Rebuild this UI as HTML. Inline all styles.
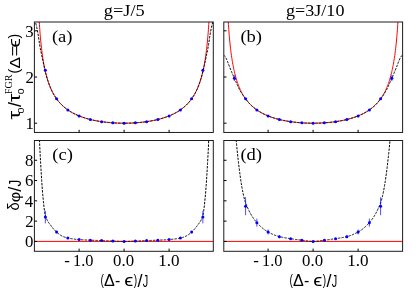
<!DOCTYPE html>
<html><head><meta charset="utf-8"><title>chart</title><style>html,body{margin:0;padding:0;background:#fff;overflow:hidden}svg{display:block;will-change:transform;}</style></head><body>
<svg width="415" height="289" viewBox="0 0 415 289">
<rect width="415" height="289" fill="#fff"/>
<defs>
<clipPath id="c0"><rect x="34.40" y="22.00" width="178.90" height="110.45"/></clipPath>
<clipPath id="c1"><rect x="223.80" y="22.00" width="178.80" height="110.45"/></clipPath>
<clipPath id="c2"><rect x="34.40" y="140.50" width="178.90" height="110.80"/></clipPath>
<clipPath id="c3"><rect x="223.80" y="140.50" width="178.80" height="110.80"/></clipPath>
</defs>
<g clip-path="url(#c0)">
<polyline fill="none" stroke="#ff0000" stroke-width="1" points="34.79,-2140.75 34.81,-1593.11 34.82,-1255.40 34.84,-1026.34 34.86,-860.76 34.89,-735.49 34.92,-637.41 34.96,-558.54 34.99,-493.74 35.03,-439.56 35.08,-393.58 35.12,-354.07 35.17,-319.77 35.23,-289.70 35.29,-263.13 35.35,-239.48 35.41,-218.29 35.48,-199.21 35.55,-181.93 35.63,-166.21 35.70,-151.85 35.79,-138.68 35.87,-126.56 35.96,-115.37 36.05,-105.00 36.15,-95.37 36.24,-86.40 36.35,-78.03 36.45,-70.20 36.56,-62.86 36.67,-55.96 36.79,-49.47 36.91,-43.35 37.03,-37.57 37.15,-32.11 37.28,-26.93 37.42,-22.02 37.55,-17.36 37.69,-12.92 37.83,-8.70 37.98,-4.67 38.13,-0.83 38.28,2.84 38.44,6.34 38.59,9.70 38.76,12.92 38.92,16.00 39.09,18.96 39.26,21.80 39.44,24.53 39.62,27.15 39.80,29.68 39.98,32.11 40.17,34.45 40.36,36.72 40.56,38.90 40.76,41.00 40.96,43.04 41.16,45.00 41.37,46.90 41.58,48.74 41.80,50.52 42.01,52.25 42.23,53.92 42.46,55.54 42.69,57.11 42.92,58.63 43.15,60.11 43.38,61.54 43.62,62.94 43.87,64.29 44.11,65.61 44.36,66.89 44.61,68.13 44.87,69.34 45.13,70.52 45.39,71.67 45.65,72.79 45.92,73.88 46.19,74.94 46.46,75.97 46.74,76.98 47.02,77.96 47.30,78.92 47.58,79.86 47.87,80.77 48.16,81.66 48.45,82.53 48.75,83.38 49.05,84.21 49.35,85.02 49.66,85.81 49.97,86.59 50.28,87.34 50.59,88.08 50.91,88.81 51.23,89.52 51.55,90.21 51.88,90.89 52.21,91.55 52.54,92.20 52.87,92.84 53.21,93.46 53.55,94.07 53.89,94.66 54.23,95.25 54.58,95.82 54.93,96.38 55.28,96.93 55.64,97.47 55.99,98.00 56.36,98.52 56.72,99.03 57.08,99.52 57.45,100.01 57.82,100.49 58.20,100.96 58.57,101.42 58.95,101.87 59.33,102.31 59.72,102.75 60.10,103.18 60.49,103.59 60.88,104.01 61.28,104.41 61.67,104.81 62.07,105.19 62.47,105.58 62.87,105.95 63.28,106.32 63.69,106.68 64.10,107.03 64.51,107.38 64.92,107.72 65.34,108.06 65.76,108.39 66.18,108.71 66.61,109.03 67.03,109.35 67.46,109.65 67.89,109.96 68.32,110.25 68.76,110.54 69.19,110.83 69.63,111.11 70.08,111.39 70.52,111.66 70.96,111.92 71.41,112.19 71.86,112.44 72.31,112.70 72.76,112.95 73.22,113.19 73.68,113.43 74.14,113.67 74.60,113.90 75.06,114.13 75.53,114.35 75.99,114.57 76.46,114.78 76.93,115.00 77.40,115.21 77.88,115.41 78.35,115.61 78.83,115.81 79.31,116.00 79.79,116.19 80.28,116.38 80.76,116.56 81.25,116.75 81.74,116.92 82.22,117.10 82.72,117.27 83.21,117.44 83.70,117.60 84.20,117.76 84.70,117.92 85.20,118.08 85.70,118.23 86.20,118.38 86.70,118.53 87.21,118.67 87.71,118.81 88.22,118.95 88.73,119.09 89.24,119.22 89.75,119.35 90.27,119.48 90.78,119.61 91.30,119.73 91.81,119.85 92.33,119.97 92.85,120.08 93.37,120.20 93.89,120.31 94.42,120.42 94.94,120.52 95.47,120.63 95.99,120.73 96.52,120.83 97.05,120.92 97.58,121.02 98.11,121.11 98.64,121.20 99.17,121.29 99.71,121.37 100.24,121.46 100.78,121.54 101.31,121.62 101.85,121.70 102.39,121.77 102.93,121.84 103.47,121.92 104.01,121.98 104.55,122.05 105.09,122.12 105.63,122.18 106.18,122.24 106.72,122.30 107.27,122.36 107.81,122.41 108.36,122.47 108.91,122.52 109.45,122.57 110.00,122.61 110.55,122.66 111.10,122.70 111.65,122.74 112.20,122.78 112.75,122.82 113.30,122.86 113.85,122.89 114.40,122.93 114.96,122.96 115.51,122.98 116.06,123.01 116.61,123.04 117.17,123.06 117.72,123.08 118.27,123.10 118.83,123.12 119.38,123.14 119.94,123.15 120.49,123.16 121.05,123.17 121.60,123.18 122.16,123.19 122.71,123.19 123.27,123.20 123.82,123.20 124.38,123.20 124.93,123.20 125.49,123.19 126.04,123.19 126.60,123.18 127.15,123.17 127.71,123.16 128.26,123.15 128.82,123.14 129.37,123.12 129.93,123.10 130.48,123.08 131.03,123.06 131.59,123.04 132.14,123.01 132.69,122.98 133.24,122.96 133.80,122.93 134.35,122.89 134.90,122.86 135.45,122.82 136.00,122.78 136.55,122.74 137.10,122.70 137.65,122.66 138.20,122.61 138.75,122.57 139.29,122.52 139.84,122.47 140.39,122.41 140.93,122.36 141.48,122.30 142.02,122.24 142.57,122.18 143.11,122.12 143.65,122.05 144.19,121.98 144.73,121.92 145.27,121.84 145.81,121.77 146.35,121.70 146.89,121.62 147.42,121.54 147.96,121.46 148.49,121.37 149.03,121.29 149.56,121.20 150.09,121.11 150.62,121.02 151.15,120.92 151.68,120.83 152.21,120.73 152.73,120.63 153.26,120.52 153.78,120.42 154.31,120.31 154.83,120.20 155.35,120.08 155.87,119.97 156.39,119.85 156.90,119.73 157.42,119.61 157.93,119.48 158.45,119.35 158.96,119.22 159.47,119.09 159.98,118.95 160.49,118.81 160.99,118.67 161.50,118.53 162.00,118.38 162.50,118.23 163.00,118.08 163.50,117.92 164.00,117.76 164.50,117.60 164.99,117.44 165.48,117.27 165.98,117.10 166.46,116.92 166.95,116.75 167.44,116.56 167.92,116.38 168.41,116.19 168.89,116.00 169.37,115.81 169.85,115.61 170.32,115.41 170.80,115.21 171.27,115.00 171.74,114.78 172.21,114.57 172.67,114.35 173.14,114.13 173.60,113.90 174.06,113.67 174.52,113.43 174.98,113.19 175.44,112.95 175.89,112.70 176.34,112.44 176.79,112.19 177.24,111.92 177.68,111.66 178.12,111.39 178.57,111.11 179.01,110.83 179.44,110.54 179.88,110.25 180.31,109.96 180.74,109.65 181.17,109.35 181.59,109.03 182.02,108.71 182.44,108.39 182.86,108.06 183.28,107.72 183.69,107.38 184.10,107.03 184.51,106.68 184.92,106.32 185.33,105.95 185.73,105.58 186.13,105.19 186.53,104.81 186.92,104.41 187.32,104.01 187.71,103.59 188.10,103.18 188.48,102.75 188.87,102.31 189.25,101.87 189.63,101.42 190.00,100.96 190.38,100.49 190.75,100.01 191.12,99.52 191.48,99.03 191.84,98.52 192.21,98.00 192.56,97.47 192.92,96.93 193.27,96.38 193.62,95.82 193.97,95.25 194.31,94.66 194.65,94.07 194.99,93.46 195.33,92.84 195.66,92.20 195.99,91.55 196.32,90.89 196.65,90.21 196.97,89.52 197.29,88.81 197.61,88.08 197.92,87.34 198.23,86.59 198.54,85.81 198.85,85.02 199.15,84.21 199.45,83.38 199.75,82.53 200.04,81.66 200.33,80.77 200.62,79.86 200.90,78.92 201.18,77.96 201.46,76.98 201.74,75.97 202.01,74.94 202.28,73.88 202.55,72.79 202.81,71.67 203.07,70.52 203.33,69.34 203.59,68.13 203.84,66.89 204.09,65.61 204.33,64.29 204.58,62.94 204.82,61.54 205.05,60.11 205.28,58.63 205.51,57.11 205.74,55.54 205.97,53.92 206.19,52.25 206.40,50.52 206.62,48.74 206.83,46.90 207.04,45.00 207.24,43.04 207.44,41.00 207.64,38.90 207.84,36.72 208.03,34.45 208.22,32.11 208.40,29.68 208.58,27.15 208.76,24.53 208.94,21.80 209.11,18.96 209.28,16.00 209.44,12.92 209.61,9.70 209.76,6.34 209.92,2.84 210.07,-0.83 210.22,-4.67 210.37,-8.70 210.51,-12.92 210.65,-17.36 210.78,-22.02 210.92,-26.93 211.05,-32.11 211.17,-37.57 211.29,-43.35 211.41,-49.47 211.53,-55.96 211.64,-62.86 211.75,-70.20 211.85,-78.03 211.96,-86.40 212.05,-95.37 212.15,-105.00 212.24,-115.37 212.33,-126.56 212.41,-138.68 212.50,-151.85 212.57,-166.21 212.65,-181.93 212.72,-199.21 212.79,-218.29 212.85,-239.48 212.91,-263.13 212.97,-289.70 213.03,-319.77 213.08,-354.07 213.12,-393.58 213.17,-439.56 213.21,-493.74 213.24,-558.54 213.28,-637.41 213.31,-735.49 213.34,-860.76 213.36,-1026.34 213.38,-1255.40 213.39,-1593.11 213.41,-2140.75"/>
<polyline fill="none" stroke="#000" stroke-width="1.0" stroke-dasharray="2.4 1.2" points="34.60,19.72 34.96,20.63 35.32,21.72 35.68,22.94 36.03,24.31 36.39,25.81 36.75,27.43 37.11,29.16 37.47,30.97 37.83,32.85 38.19,34.93 38.55,37.24 38.90,39.66 39.26,42.10 39.62,44.46 39.98,46.63 40.34,48.57 40.70,50.38 41.06,52.15 41.42,53.88 41.77,55.59 42.13,57.27 42.49,58.94 42.85,60.60 43.21,62.26 43.57,63.96 43.93,65.67 44.29,67.37 44.64,69.01 45.00,70.55 45.36,71.96 45.72,73.28 46.08,74.58 46.44,75.85 46.80,77.08 47.16,78.29 47.51,79.46 47.87,80.60 48.23,81.70 48.59,82.78 48.95,83.81 49.31,84.81 49.67,85.77 50.02,86.70 50.38,87.58 50.74,88.43 51.10,89.23 51.46,90.01 51.82,90.76 52.18,91.49 52.54,92.20 52.89,92.88 53.25,93.55 53.61,94.19 53.97,94.81 54.33,95.41 54.69,96.00 55.05,96.57 55.41,97.12 55.76,97.66 56.12,98.19 56.48,98.70 56.84,99.19 57.20,99.68 57.56,100.15 57.92,100.61 58.28,101.06 58.63,101.50 58.99,101.92 59.35,102.34 59.71,102.75 60.07,103.14 60.43,103.53 60.79,103.91 61.15,104.28 61.50,104.64 61.86,104.99 62.22,105.34 62.58,105.68 62.94,106.01 63.30,106.33 63.66,106.65 64.01,106.96 64.37,107.27 64.73,107.57 65.09,107.86 65.45,108.15 65.81,108.43 66.17,108.70 66.53,108.97 66.88,109.24 67.24,109.50 67.60,109.75 67.96,110.00 68.32,110.25 68.68,110.49 69.04,110.73 69.40,110.96 69.75,111.19 70.11,111.41 70.47,111.63 70.83,111.85 71.19,112.06 71.55,112.27 71.91,112.47 72.27,112.67 72.62,112.87 72.98,113.06 73.34,113.25 73.70,113.44 74.06,113.63 74.42,113.81 74.78,113.99 75.14,114.16 75.49,114.33 75.85,114.50 76.21,114.67 76.57,114.83 76.93,115.00 77.29,115.15 77.65,115.31 78.00,115.46 78.36,115.62 78.72,115.76 79.08,115.91 79.44,116.05 79.80,116.19 80.16,116.33 80.52,116.47 80.87,116.61 81.23,116.74 81.59,116.87 81.95,117.00 82.31,117.13 82.67,117.25 83.03,117.37 83.39,117.50 83.74,117.61 84.10,117.73 84.46,117.85 84.82,117.96 85.18,118.07 85.54,118.18 85.90,118.29 86.26,118.40 86.61,118.50 86.97,118.60 87.33,118.71 87.69,118.81 88.05,118.91 88.41,119.00 88.77,119.10 89.13,119.19 89.48,119.28 89.84,119.38 90.20,119.46 90.56,119.55 90.92,119.64 91.28,119.72 91.64,119.81 91.99,119.89 92.35,119.97 92.71,120.05 93.07,120.13 93.43,120.21 93.79,120.29 94.15,120.36 94.51,120.44 94.86,120.51 95.22,120.58 95.58,120.65 95.94,120.72 96.30,120.79 96.66,120.85 97.02,120.92 97.38,120.98 97.73,121.04 98.09,121.11 98.45,121.17 98.81,121.23 99.17,121.29 99.53,121.35 99.89,121.40 100.25,121.46 100.60,121.51 100.96,121.57 101.32,121.62 101.68,121.67 102.04,121.72 102.40,121.77 102.76,121.82 103.12,121.87 103.47,121.92 103.83,121.96 104.19,122.01 104.55,122.05 104.91,122.10 105.27,122.14 105.63,122.18 105.98,122.22 106.34,122.26 106.70,122.30 107.06,122.34 107.42,122.37 107.78,122.41 108.14,122.44 108.50,122.48 108.85,122.51 109.21,122.54 109.57,122.58 109.93,122.61 110.29,122.64 110.65,122.67 111.01,122.70 111.37,122.73 111.72,122.75 112.08,122.78 112.44,122.80 112.80,122.83 113.16,122.85 113.52,122.87 113.88,122.89 114.24,122.91 114.59,122.94 114.95,122.96 115.31,122.98 115.67,123.00 116.03,123.01 116.39,123.03 116.75,123.05 117.11,123.06 117.46,123.08 117.82,123.09 118.18,123.10 118.54,123.11 118.90,123.12 119.26,123.13 119.62,123.14 119.97,123.14 120.33,123.15 120.69,123.16 121.05,123.17 121.41,123.17 121.77,123.18 122.13,123.19 122.49,123.19 122.84,123.19 123.20,123.20 123.56,123.20 123.92,123.20 124.28,123.20 124.64,123.20 125.00,123.20 125.36,123.19 125.71,123.19 126.07,123.19 126.43,123.18 126.79,123.17 127.15,123.17 127.51,123.16 127.87,123.15 128.23,123.14 128.58,123.14 128.94,123.13 129.30,123.12 129.66,123.11 130.02,123.10 130.38,123.09 130.74,123.08 131.09,123.06 131.45,123.05 131.81,123.03 132.17,123.01 132.53,123.00 132.89,122.98 133.25,122.96 133.61,122.94 133.96,122.91 134.32,122.89 134.68,122.87 135.04,122.85 135.40,122.83 135.76,122.80 136.12,122.78 136.48,122.75 136.83,122.73 137.19,122.70 137.55,122.67 137.91,122.64 138.27,122.61 138.63,122.58 138.99,122.54 139.35,122.51 139.70,122.48 140.06,122.44 140.42,122.41 140.78,122.37 141.14,122.34 141.50,122.30 141.86,122.26 142.22,122.22 142.57,122.18 142.93,122.14 143.29,122.10 143.65,122.05 144.01,122.01 144.37,121.96 144.73,121.92 145.08,121.87 145.44,121.82 145.80,121.77 146.16,121.72 146.52,121.67 146.88,121.62 147.24,121.57 147.60,121.51 147.95,121.46 148.31,121.40 148.67,121.35 149.03,121.29 149.39,121.23 149.75,121.17 150.11,121.11 150.47,121.04 150.82,120.98 151.18,120.92 151.54,120.85 151.90,120.79 152.26,120.72 152.62,120.65 152.98,120.58 153.34,120.51 153.69,120.44 154.05,120.36 154.41,120.29 154.77,120.21 155.13,120.13 155.49,120.05 155.85,119.97 156.21,119.89 156.56,119.81 156.92,119.72 157.28,119.64 157.64,119.55 158.00,119.46 158.36,119.38 158.72,119.28 159.07,119.19 159.43,119.10 159.79,119.00 160.15,118.91 160.51,118.81 160.87,118.71 161.23,118.60 161.59,118.50 161.94,118.40 162.30,118.29 162.66,118.18 163.02,118.07 163.38,117.96 163.74,117.85 164.10,117.73 164.46,117.61 164.81,117.50 165.17,117.37 165.53,117.25 165.89,117.13 166.25,117.00 166.61,116.87 166.97,116.74 167.33,116.61 167.68,116.47 168.04,116.33 168.40,116.19 168.76,116.05 169.12,115.91 169.48,115.76 169.84,115.62 170.20,115.46 170.55,115.31 170.91,115.15 171.27,115.00 171.63,114.83 171.99,114.67 172.35,114.50 172.71,114.33 173.06,114.16 173.42,113.99 173.78,113.81 174.14,113.63 174.50,113.44 174.86,113.25 175.22,113.06 175.58,112.87 175.93,112.67 176.29,112.47 176.65,112.27 177.01,112.06 177.37,111.85 177.73,111.63 178.09,111.41 178.45,111.19 178.80,110.96 179.16,110.73 179.52,110.49 179.88,110.25 180.24,110.00 180.60,109.75 180.96,109.50 181.32,109.24 181.67,108.97 182.03,108.70 182.39,108.43 182.75,108.15 183.11,107.86 183.47,107.57 183.83,107.27 184.19,106.96 184.54,106.65 184.90,106.33 185.26,106.01 185.62,105.68 185.98,105.34 186.34,104.99 186.70,104.64 187.05,104.28 187.41,103.91 187.77,103.53 188.13,103.14 188.49,102.75 188.85,102.34 189.21,101.92 189.57,101.50 189.92,101.06 190.28,100.61 190.64,100.15 191.00,99.68 191.36,99.19 191.72,98.70 192.08,98.19 192.44,97.66 192.79,97.12 193.15,96.57 193.51,96.00 193.87,95.41 194.23,94.81 194.59,94.19 194.95,93.55 195.31,92.88 195.66,92.20 196.02,91.49 196.38,90.76 196.74,90.01 197.10,89.23 197.46,88.43 197.82,87.58 198.18,86.70 198.53,85.77 198.89,84.81 199.25,83.81 199.61,82.78 199.97,81.70 200.33,80.60 200.69,79.46 201.04,78.29 201.40,77.08 201.76,75.85 202.12,74.58 202.48,73.28 202.84,71.96 203.20,70.55 203.56,69.01 203.91,67.37 204.27,65.67 204.63,63.96 204.99,62.26 205.35,60.60 205.71,58.94 206.07,57.27 206.43,55.59 206.78,53.88 207.14,52.15 207.50,50.38 207.86,48.57 208.22,46.63 208.58,44.46 208.94,42.10 209.30,39.66 209.65,37.24 210.01,34.93 210.37,32.85 210.73,30.97 211.09,29.16 211.45,27.43 211.81,25.81 212.17,24.31 212.52,22.94 212.88,21.72 213.24,20.63 213.60,19.72"/>
<circle cx="45.35" cy="70.13" r="1.5" fill="#0000ff"/>
<circle cx="56.60" cy="98.86" r="1.5" fill="#0000ff"/>
<circle cx="67.85" cy="109.93" r="1.5" fill="#0000ff"/>
<circle cx="79.10" cy="115.92" r="1.5" fill="#0000ff"/>
<circle cx="90.35" cy="119.50" r="1.5" fill="#0000ff"/>
<circle cx="101.60" cy="121.66" r="1.5" fill="#0000ff"/>
<circle cx="112.85" cy="122.83" r="1.5" fill="#0000ff"/>
<circle cx="124.10" cy="123.20" r="1.5" fill="#0000ff"/>
<circle cx="135.35" cy="122.83" r="1.5" fill="#0000ff"/>
<circle cx="146.60" cy="121.66" r="1.5" fill="#0000ff"/>
<circle cx="157.85" cy="119.50" r="1.5" fill="#0000ff"/>
<circle cx="169.10" cy="115.92" r="1.5" fill="#0000ff"/>
<circle cx="180.35" cy="109.93" r="1.5" fill="#0000ff"/>
<circle cx="191.60" cy="98.86" r="1.5" fill="#0000ff"/>
<circle cx="202.85" cy="70.13" r="1.5" fill="#0000ff"/>
</g>
<g clip-path="url(#c1)">
<polyline fill="none" stroke="#ff0000" stroke-width="1" points="223.79,-2140.75 223.81,-1593.11 223.82,-1255.40 223.84,-1026.34 223.86,-860.76 223.89,-735.49 223.92,-637.41 223.96,-558.54 223.99,-493.74 224.03,-439.56 224.08,-393.58 224.12,-354.07 224.17,-319.77 224.23,-289.70 224.29,-263.13 224.35,-239.48 224.41,-218.29 224.48,-199.21 224.55,-181.93 224.63,-166.21 224.70,-151.85 224.79,-138.68 224.87,-126.56 224.96,-115.37 225.05,-105.00 225.15,-95.37 225.24,-86.40 225.35,-78.03 225.45,-70.20 225.56,-62.86 225.67,-55.96 225.79,-49.47 225.91,-43.35 226.03,-37.57 226.15,-32.11 226.28,-26.93 226.42,-22.02 226.55,-17.36 226.69,-12.92 226.83,-8.70 226.98,-4.67 227.13,-0.83 227.28,2.84 227.44,6.34 227.59,9.70 227.76,12.92 227.92,16.00 228.09,18.96 228.26,21.80 228.44,24.53 228.62,27.15 228.80,29.68 228.98,32.11 229.17,34.45 229.36,36.72 229.56,38.90 229.76,41.00 229.96,43.04 230.16,45.00 230.37,46.90 230.58,48.74 230.80,50.52 231.01,52.25 231.23,53.92 231.46,55.54 231.69,57.11 231.92,58.63 232.15,60.11 232.38,61.54 232.62,62.94 232.87,64.29 233.11,65.61 233.36,66.89 233.61,68.13 233.87,69.34 234.13,70.52 234.39,71.67 234.65,72.79 234.92,73.88 235.19,74.94 235.46,75.97 235.74,76.98 236.02,77.96 236.30,78.92 236.58,79.86 236.87,80.77 237.16,81.66 237.45,82.53 237.75,83.38 238.05,84.21 238.35,85.02 238.66,85.81 238.97,86.59 239.28,87.34 239.59,88.08 239.91,88.81 240.23,89.52 240.55,90.21 240.88,90.89 241.21,91.55 241.54,92.20 241.87,92.84 242.21,93.46 242.55,94.07 242.89,94.66 243.23,95.25 243.58,95.82 243.93,96.38 244.28,96.93 244.64,97.47 244.99,98.00 245.36,98.52 245.72,99.03 246.08,99.52 246.45,100.01 246.82,100.49 247.20,100.96 247.57,101.42 247.95,101.87 248.33,102.31 248.72,102.75 249.10,103.18 249.49,103.59 249.88,104.01 250.28,104.41 250.67,104.81 251.07,105.19 251.47,105.58 251.87,105.95 252.28,106.32 252.69,106.68 253.10,107.03 253.51,107.38 253.92,107.72 254.34,108.06 254.76,108.39 255.18,108.71 255.61,109.03 256.03,109.35 256.46,109.65 256.89,109.96 257.32,110.25 257.76,110.54 258.19,110.83 258.63,111.11 259.08,111.39 259.52,111.66 259.96,111.92 260.41,112.19 260.86,112.44 261.31,112.70 261.76,112.95 262.22,113.19 262.68,113.43 263.14,113.67 263.60,113.90 264.06,114.13 264.53,114.35 264.99,114.57 265.46,114.78 265.93,115.00 266.40,115.21 266.88,115.41 267.35,115.61 267.83,115.81 268.31,116.00 268.79,116.19 269.28,116.38 269.76,116.56 270.25,116.75 270.74,116.92 271.22,117.10 271.72,117.27 272.21,117.44 272.70,117.60 273.20,117.76 273.70,117.92 274.20,118.08 274.70,118.23 275.20,118.38 275.70,118.53 276.21,118.67 276.71,118.81 277.22,118.95 277.73,119.09 278.24,119.22 278.75,119.35 279.27,119.48 279.78,119.61 280.30,119.73 280.81,119.85 281.33,119.97 281.85,120.08 282.37,120.20 282.89,120.31 283.42,120.42 283.94,120.52 284.47,120.63 284.99,120.73 285.52,120.83 286.05,120.92 286.58,121.02 287.11,121.11 287.64,121.20 288.17,121.29 288.71,121.37 289.24,121.46 289.78,121.54 290.31,121.62 290.85,121.70 291.39,121.77 291.93,121.84 292.47,121.92 293.01,121.98 293.55,122.05 294.09,122.12 294.63,122.18 295.18,122.24 295.72,122.30 296.27,122.36 296.81,122.41 297.36,122.47 297.91,122.52 298.45,122.57 299.00,122.61 299.55,122.66 300.10,122.70 300.65,122.74 301.20,122.78 301.75,122.82 302.30,122.86 302.85,122.89 303.40,122.93 303.96,122.96 304.51,122.98 305.06,123.01 305.61,123.04 306.17,123.06 306.72,123.08 307.27,123.10 307.83,123.12 308.38,123.14 308.94,123.15 309.49,123.16 310.05,123.17 310.60,123.18 311.16,123.19 311.71,123.19 312.27,123.20 312.82,123.20 313.38,123.20 313.93,123.20 314.49,123.19 315.04,123.19 315.60,123.18 316.15,123.17 316.71,123.16 317.26,123.15 317.82,123.14 318.37,123.12 318.93,123.10 319.48,123.08 320.03,123.06 320.59,123.04 321.14,123.01 321.69,122.98 322.24,122.96 322.80,122.93 323.35,122.89 323.90,122.86 324.45,122.82 325.00,122.78 325.55,122.74 326.10,122.70 326.65,122.66 327.20,122.61 327.75,122.57 328.29,122.52 328.84,122.47 329.39,122.41 329.93,122.36 330.48,122.30 331.02,122.24 331.57,122.18 332.11,122.12 332.65,122.05 333.19,121.98 333.73,121.92 334.27,121.84 334.81,121.77 335.35,121.70 335.89,121.62 336.42,121.54 336.96,121.46 337.49,121.37 338.03,121.29 338.56,121.20 339.09,121.11 339.62,121.02 340.15,120.92 340.68,120.83 341.21,120.73 341.73,120.63 342.26,120.52 342.78,120.42 343.31,120.31 343.83,120.20 344.35,120.08 344.87,119.97 345.39,119.85 345.90,119.73 346.42,119.61 346.93,119.48 347.45,119.35 347.96,119.22 348.47,119.09 348.98,118.95 349.49,118.81 349.99,118.67 350.50,118.53 351.00,118.38 351.50,118.23 352.00,118.08 352.50,117.92 353.00,117.76 353.50,117.60 353.99,117.44 354.48,117.27 354.98,117.10 355.46,116.92 355.95,116.75 356.44,116.56 356.92,116.38 357.41,116.19 357.89,116.00 358.37,115.81 358.85,115.61 359.32,115.41 359.80,115.21 360.27,115.00 360.74,114.78 361.21,114.57 361.67,114.35 362.14,114.13 362.60,113.90 363.06,113.67 363.52,113.43 363.98,113.19 364.44,112.95 364.89,112.70 365.34,112.44 365.79,112.19 366.24,111.92 366.68,111.66 367.12,111.39 367.57,111.11 368.01,110.83 368.44,110.54 368.88,110.25 369.31,109.96 369.74,109.65 370.17,109.35 370.59,109.03 371.02,108.71 371.44,108.39 371.86,108.06 372.28,107.72 372.69,107.38 373.10,107.03 373.51,106.68 373.92,106.32 374.33,105.95 374.73,105.58 375.13,105.19 375.53,104.81 375.92,104.41 376.32,104.01 376.71,103.59 377.10,103.18 377.48,102.75 377.87,102.31 378.25,101.87 378.63,101.42 379.00,100.96 379.38,100.49 379.75,100.01 380.12,99.52 380.48,99.03 380.84,98.52 381.21,98.00 381.56,97.47 381.92,96.93 382.27,96.38 382.62,95.82 382.97,95.25 383.31,94.66 383.65,94.07 383.99,93.46 384.33,92.84 384.66,92.20 384.99,91.55 385.32,90.89 385.65,90.21 385.97,89.52 386.29,88.81 386.61,88.08 386.92,87.34 387.23,86.59 387.54,85.81 387.85,85.02 388.15,84.21 388.45,83.38 388.75,82.53 389.04,81.66 389.33,80.77 389.62,79.86 389.90,78.92 390.18,77.96 390.46,76.98 390.74,75.97 391.01,74.94 391.28,73.88 391.55,72.79 391.81,71.67 392.07,70.52 392.33,69.34 392.59,68.13 392.84,66.89 393.09,65.61 393.33,64.29 393.58,62.94 393.82,61.54 394.05,60.11 394.28,58.63 394.51,57.11 394.74,55.54 394.97,53.92 395.19,52.25 395.40,50.52 395.62,48.74 395.83,46.90 396.04,45.00 396.24,43.04 396.44,41.00 396.64,38.90 396.84,36.72 397.03,34.45 397.22,32.11 397.40,29.68 397.58,27.15 397.76,24.53 397.94,21.80 398.11,18.96 398.28,16.00 398.44,12.92 398.61,9.70 398.76,6.34 398.92,2.84 399.07,-0.83 399.22,-4.67 399.37,-8.70 399.51,-12.92 399.65,-17.36 399.78,-22.02 399.92,-26.93 400.05,-32.11 400.17,-37.57 400.29,-43.35 400.41,-49.47 400.53,-55.96 400.64,-62.86 400.75,-70.20 400.85,-78.03 400.96,-86.40 401.05,-95.37 401.15,-105.00 401.24,-115.37 401.33,-126.56 401.41,-138.68 401.50,-151.85 401.57,-166.21 401.65,-181.93 401.72,-199.21 401.79,-218.29 401.85,-239.48 401.91,-263.13 401.97,-289.70 402.03,-319.77 402.08,-354.07 402.12,-393.58 402.17,-439.56 402.21,-493.74 402.24,-558.54 402.28,-637.41 402.31,-735.49 402.34,-860.76 402.36,-1026.34 402.38,-1255.40 402.39,-1593.11 402.41,-2140.75"/>
<polyline fill="none" stroke="#000" stroke-width="1.0" stroke-dasharray="2.4 1.2" points="223.60,54.92 223.96,55.21 224.32,55.60 224.68,56.02 225.03,56.51 225.39,57.05 225.75,57.64 226.11,58.28 226.47,59.01 226.83,59.84 227.19,60.73 227.55,61.62 227.90,62.51 228.26,63.42 228.62,64.35 228.98,65.29 229.34,66.23 229.70,67.17 230.06,68.08 230.42,68.97 230.77,69.84 231.13,70.70 231.49,71.56 231.85,72.41 232.21,73.25 232.57,74.08 232.93,74.91 233.29,75.74 233.64,76.55 234.00,77.37 234.36,78.18 234.72,79.00 235.08,79.82 235.44,80.65 235.80,81.48 236.16,82.31 236.51,83.14 236.87,83.96 237.23,84.77 237.59,85.57 237.95,86.36 238.31,87.13 238.67,87.87 239.02,88.60 239.38,89.30 239.74,89.98 240.10,90.62 240.46,91.25 240.82,91.86 241.18,92.45 241.54,93.03 241.89,93.60 242.25,94.16 242.61,94.70 242.97,95.23 243.33,95.76 243.69,96.27 244.05,96.77 244.41,97.27 244.76,97.75 245.12,98.23 245.48,98.71 245.84,99.17 246.20,99.64 246.56,100.09 246.92,100.54 247.28,100.99 247.63,101.42 247.99,101.85 248.35,102.28 248.71,102.69 249.07,103.10 249.43,103.50 249.79,103.88 250.15,104.26 250.50,104.63 250.86,104.99 251.22,105.34 251.58,105.68 251.94,106.01 252.30,106.33 252.66,106.65 253.01,106.96 253.37,107.27 253.73,107.57 254.09,107.86 254.45,108.15 254.81,108.43 255.17,108.70 255.53,108.97 255.88,109.24 256.24,109.50 256.60,109.75 256.96,110.00 257.32,110.25 257.68,110.49 258.04,110.73 258.40,110.96 258.75,111.19 259.11,111.41 259.47,111.63 259.83,111.85 260.19,112.06 260.55,112.27 260.91,112.47 261.27,112.67 261.62,112.87 261.98,113.06 262.34,113.25 262.70,113.44 263.06,113.63 263.42,113.81 263.78,113.99 264.14,114.16 264.49,114.33 264.85,114.50 265.21,114.67 265.57,114.83 265.93,115.00 266.29,115.15 266.65,115.31 267.00,115.46 267.36,115.62 267.72,115.76 268.08,115.91 268.44,116.05 268.80,116.19 269.16,116.33 269.52,116.47 269.87,116.61 270.23,116.74 270.59,116.87 270.95,117.00 271.31,117.13 271.67,117.25 272.03,117.37 272.39,117.50 272.74,117.61 273.10,117.73 273.46,117.85 273.82,117.96 274.18,118.07 274.54,118.18 274.90,118.29 275.26,118.40 275.61,118.50 275.97,118.60 276.33,118.71 276.69,118.81 277.05,118.91 277.41,119.00 277.77,119.10 278.13,119.19 278.48,119.28 278.84,119.38 279.20,119.46 279.56,119.55 279.92,119.64 280.28,119.72 280.64,119.81 280.99,119.89 281.35,119.97 281.71,120.05 282.07,120.13 282.43,120.21 282.79,120.29 283.15,120.36 283.51,120.44 283.86,120.51 284.22,120.58 284.58,120.65 284.94,120.72 285.30,120.79 285.66,120.85 286.02,120.92 286.38,120.98 286.73,121.04 287.09,121.11 287.45,121.17 287.81,121.23 288.17,121.29 288.53,121.35 288.89,121.40 289.25,121.46 289.60,121.51 289.96,121.57 290.32,121.62 290.68,121.67 291.04,121.72 291.40,121.77 291.76,121.82 292.12,121.87 292.47,121.92 292.83,121.96 293.19,122.01 293.55,122.05 293.91,122.10 294.27,122.14 294.63,122.18 294.98,122.22 295.34,122.26 295.70,122.30 296.06,122.34 296.42,122.37 296.78,122.41 297.14,122.44 297.50,122.48 297.85,122.51 298.21,122.54 298.57,122.58 298.93,122.61 299.29,122.64 299.65,122.67 300.01,122.70 300.37,122.73 300.72,122.75 301.08,122.78 301.44,122.80 301.80,122.83 302.16,122.85 302.52,122.87 302.88,122.89 303.24,122.91 303.59,122.94 303.95,122.96 304.31,122.98 304.67,123.00 305.03,123.01 305.39,123.03 305.75,123.05 306.11,123.06 306.46,123.08 306.82,123.09 307.18,123.10 307.54,123.11 307.90,123.12 308.26,123.13 308.62,123.14 308.97,123.14 309.33,123.15 309.69,123.16 310.05,123.17 310.41,123.17 310.77,123.18 311.13,123.19 311.49,123.19 311.84,123.19 312.20,123.20 312.56,123.20 312.92,123.20 313.28,123.20 313.64,123.20 314.00,123.20 314.36,123.19 314.71,123.19 315.07,123.19 315.43,123.18 315.79,123.17 316.15,123.17 316.51,123.16 316.87,123.15 317.23,123.14 317.58,123.14 317.94,123.13 318.30,123.12 318.66,123.11 319.02,123.10 319.38,123.09 319.74,123.08 320.09,123.06 320.45,123.05 320.81,123.03 321.17,123.01 321.53,123.00 321.89,122.98 322.25,122.96 322.61,122.94 322.96,122.91 323.32,122.89 323.68,122.87 324.04,122.85 324.40,122.83 324.76,122.80 325.12,122.78 325.48,122.75 325.83,122.73 326.19,122.70 326.55,122.67 326.91,122.64 327.27,122.61 327.63,122.58 327.99,122.54 328.35,122.51 328.70,122.48 329.06,122.44 329.42,122.41 329.78,122.37 330.14,122.34 330.50,122.30 330.86,122.26 331.22,122.22 331.57,122.18 331.93,122.14 332.29,122.10 332.65,122.05 333.01,122.01 333.37,121.96 333.73,121.92 334.08,121.87 334.44,121.82 334.80,121.77 335.16,121.72 335.52,121.67 335.88,121.62 336.24,121.57 336.60,121.51 336.95,121.46 337.31,121.40 337.67,121.35 338.03,121.29 338.39,121.23 338.75,121.17 339.11,121.11 339.47,121.04 339.82,120.98 340.18,120.92 340.54,120.85 340.90,120.79 341.26,120.72 341.62,120.65 341.98,120.58 342.34,120.51 342.69,120.44 343.05,120.36 343.41,120.29 343.77,120.21 344.13,120.13 344.49,120.05 344.85,119.97 345.21,119.89 345.56,119.81 345.92,119.72 346.28,119.64 346.64,119.55 347.00,119.46 347.36,119.38 347.72,119.28 348.07,119.19 348.43,119.10 348.79,119.00 349.15,118.91 349.51,118.81 349.87,118.71 350.23,118.60 350.59,118.50 350.94,118.40 351.30,118.29 351.66,118.18 352.02,118.07 352.38,117.96 352.74,117.85 353.10,117.73 353.46,117.61 353.81,117.50 354.17,117.37 354.53,117.25 354.89,117.13 355.25,117.00 355.61,116.87 355.97,116.74 356.33,116.61 356.68,116.47 357.04,116.33 357.40,116.19 357.76,116.05 358.12,115.91 358.48,115.76 358.84,115.62 359.20,115.46 359.55,115.31 359.91,115.15 360.27,115.00 360.63,114.83 360.99,114.67 361.35,114.50 361.71,114.33 362.06,114.16 362.42,113.99 362.78,113.81 363.14,113.63 363.50,113.44 363.86,113.25 364.22,113.06 364.58,112.87 364.93,112.67 365.29,112.47 365.65,112.27 366.01,112.06 366.37,111.85 366.73,111.63 367.09,111.41 367.45,111.19 367.80,110.96 368.16,110.73 368.52,110.49 368.88,110.25 369.24,110.00 369.60,109.75 369.96,109.50 370.32,109.24 370.67,108.97 371.03,108.70 371.39,108.43 371.75,108.15 372.11,107.86 372.47,107.57 372.83,107.27 373.19,106.96 373.54,106.65 373.90,106.33 374.26,106.01 374.62,105.68 374.98,105.34 375.34,104.99 375.70,104.63 376.05,104.26 376.41,103.88 376.77,103.50 377.13,103.10 377.49,102.69 377.85,102.28 378.21,101.85 378.57,101.42 378.92,100.99 379.28,100.54 379.64,100.09 380.00,99.64 380.36,99.17 380.72,98.71 381.08,98.23 381.44,97.75 381.79,97.27 382.15,96.77 382.51,96.27 382.87,95.76 383.23,95.23 383.59,94.70 383.95,94.16 384.31,93.60 384.66,93.03 385.02,92.45 385.38,91.86 385.74,91.25 386.10,90.62 386.46,89.98 386.82,89.30 387.18,88.60 387.53,87.87 387.89,87.13 388.25,86.36 388.61,85.57 388.97,84.77 389.33,83.96 389.69,83.14 390.04,82.31 390.40,81.48 390.76,80.65 391.12,79.82 391.48,79.00 391.84,78.18 392.20,77.37 392.56,76.55 392.91,75.74 393.27,74.91 393.63,74.08 393.99,73.25 394.35,72.41 394.71,71.56 395.07,70.70 395.43,69.84 395.78,68.97 396.14,68.08 396.50,67.17 396.86,66.23 397.22,65.29 397.58,64.35 397.94,63.42 398.30,62.51 398.65,61.62 399.01,60.73 399.37,59.84 399.73,59.01 400.09,58.28 400.45,57.64 400.81,57.05 401.17,56.51 401.52,56.02 401.88,55.60 402.24,55.21 402.60,54.92"/>
<line x1="234.35" x2="234.35" y1="75.16" y2="81.16" stroke="#0000ff" stroke-width="0.7"/>
<circle cx="234.35" cy="78.16" r="1.5" fill="#0000ff"/>
<circle cx="245.60" cy="98.86" r="1.5" fill="#0000ff"/>
<circle cx="256.85" cy="109.93" r="1.5" fill="#0000ff"/>
<circle cx="268.10" cy="115.92" r="1.5" fill="#0000ff"/>
<circle cx="279.35" cy="119.50" r="1.5" fill="#0000ff"/>
<circle cx="290.60" cy="121.66" r="1.5" fill="#0000ff"/>
<circle cx="301.85" cy="122.83" r="1.5" fill="#0000ff"/>
<circle cx="313.10" cy="123.20" r="1.5" fill="#0000ff"/>
<circle cx="324.35" cy="122.83" r="1.5" fill="#0000ff"/>
<circle cx="335.60" cy="121.66" r="1.5" fill="#0000ff"/>
<circle cx="346.85" cy="119.50" r="1.5" fill="#0000ff"/>
<circle cx="358.10" cy="115.92" r="1.5" fill="#0000ff"/>
<circle cx="369.35" cy="109.93" r="1.5" fill="#0000ff"/>
<circle cx="380.60" cy="98.86" r="1.5" fill="#0000ff"/>
<line x1="391.85" x2="391.85" y1="75.16" y2="81.16" stroke="#0000ff" stroke-width="0.7"/>
<circle cx="391.85" cy="78.16" r="1.5" fill="#0000ff"/>
</g>
<g clip-path="url(#c2)">
<line x1="34.40" x2="213.30" y1="241.40" y2="241.40" stroke="#ff0000" stroke-width="1"/>
<polyline fill="none" stroke="#000" stroke-width="1.0" stroke-dasharray="2.4 1.2" points="38.60,114.65 38.94,125.41 39.29,135.14 39.63,143.45 39.97,150.74 40.31,157.33 40.66,163.42 41.00,169.22 41.34,174.90 41.68,180.35 42.03,185.45 42.37,190.10 42.71,194.18 43.05,197.78 43.40,201.29 43.74,204.63 44.08,207.73 44.43,210.48 44.77,212.81 45.11,214.62 45.45,215.87 45.80,216.89 46.14,217.82 46.48,218.66 46.82,219.44 47.17,220.14 47.51,220.79 47.85,221.38 48.20,221.93 48.54,222.44 48.88,222.93 49.22,223.39 49.57,223.84 49.91,224.28 50.25,224.72 50.59,225.17 50.94,225.63 51.28,226.10 51.62,226.57 51.96,227.02 52.31,227.46 52.65,227.89 52.99,228.31 53.34,228.71 53.68,229.11 54.02,229.50 54.36,229.88 54.71,230.24 55.05,230.60 55.39,230.94 55.73,231.27 56.08,231.60 56.42,231.91 56.76,232.21 57.11,232.51 57.45,232.81 57.79,233.10 58.13,233.39 58.48,233.66 58.82,233.94 59.16,234.20 59.50,234.46 59.85,234.71 60.19,234.95 60.53,235.18 60.87,235.39 61.22,235.60 61.56,235.79 61.90,235.97 62.25,236.14 62.59,236.29 62.93,236.45 63.27,236.59 63.62,236.74 63.96,236.87 64.30,237.01 64.64,237.13 64.99,237.26 65.33,237.37 65.67,237.48 66.01,237.59 66.36,237.69 66.70,237.78 67.04,237.87 67.39,237.95 67.73,238.03 68.07,238.10 68.41,238.17 68.76,238.23 69.10,238.30 69.44,238.36 69.78,238.42 70.13,238.48 70.47,238.54 70.81,238.60 71.16,238.65 71.50,238.71 71.84,238.76 72.18,238.81 72.53,238.86 72.87,238.91 73.21,238.96 73.55,239.00 73.90,239.05 74.24,239.09 74.58,239.13 74.92,239.17 75.27,239.21 75.61,239.25 75.95,239.29 76.30,239.32 76.64,239.36 76.98,239.39 77.32,239.42 77.67,239.46 78.01,239.49 78.35,239.51 78.69,239.54 79.04,239.57 79.38,239.60 79.72,239.62 80.06,239.65 80.41,239.67 80.75,239.69 81.09,239.72 81.44,239.74 81.78,239.76 82.12,239.78 82.46,239.80 82.81,239.82 83.15,239.84 83.49,239.86 83.83,239.88 84.18,239.90 84.52,239.92 84.86,239.93 85.21,239.95 85.55,239.97 85.89,239.98 86.23,240.00 86.58,240.02 86.92,240.03 87.26,240.05 87.60,240.06 87.95,240.08 88.29,240.09 88.63,240.11 88.97,240.12 89.32,240.14 89.66,240.15 90.00,240.17 90.35,240.18 90.69,240.20 91.03,240.21 91.37,240.23 91.72,240.24 92.06,240.25 92.40,240.27 92.74,240.28 93.09,240.29 93.43,240.30 93.77,240.32 94.12,240.33 94.46,240.34 94.80,240.35 95.14,240.36 95.49,240.37 95.83,240.39 96.17,240.40 96.51,240.41 96.86,240.42 97.20,240.43 97.54,240.44 97.88,240.45 98.23,240.47 98.57,240.48 98.91,240.49 99.26,240.50 99.60,240.51 99.94,240.53 100.28,240.54 100.63,240.55 100.97,240.56 101.31,240.58 101.65,240.59 102.00,240.60 102.34,240.62 102.68,240.63 103.02,240.65 103.37,240.66 103.71,240.68 104.05,240.70 104.40,240.71 104.74,240.73 105.08,240.75 105.42,240.76 105.77,240.78 106.11,240.80 106.45,240.81 106.79,240.83 107.14,240.85 107.48,240.86 107.82,240.88 108.17,240.90 108.51,240.91 108.85,240.93 109.19,240.95 109.54,240.96 109.88,240.98 110.22,240.99 110.56,241.01 110.91,241.02 111.25,241.04 111.59,241.05 111.93,241.06 112.28,241.08 112.62,241.09 112.96,241.10 113.31,241.11 113.65,241.12 113.99,241.14 114.33,241.15 114.68,241.16 115.02,241.17 115.36,241.19 115.70,241.20 116.05,241.21 116.39,241.22 116.73,241.24 117.07,241.25 117.42,241.26 117.76,241.27 118.10,241.28 118.45,241.29 118.79,241.31 119.13,241.32 119.47,241.33 119.82,241.34 120.16,241.34 120.50,241.35 120.84,241.36 121.19,241.37 121.53,241.37 121.87,241.38 122.22,241.39 122.56,241.39 122.90,241.39 123.24,241.40 123.59,241.40 123.93,241.40 124.27,241.40 124.61,241.40 124.96,241.40 125.30,241.39 125.64,241.39 125.98,241.39 126.33,241.38 126.67,241.37 127.01,241.37 127.36,241.36 127.70,241.35 128.04,241.34 128.38,241.34 128.73,241.33 129.07,241.32 129.41,241.31 129.75,241.29 130.10,241.28 130.44,241.27 130.78,241.26 131.13,241.25 131.47,241.24 131.81,241.22 132.15,241.21 132.50,241.20 132.84,241.19 133.18,241.17 133.52,241.16 133.87,241.15 134.21,241.14 134.55,241.12 134.89,241.11 135.24,241.10 135.58,241.09 135.92,241.08 136.27,241.06 136.61,241.05 136.95,241.04 137.29,241.02 137.64,241.01 137.98,240.99 138.32,240.98 138.66,240.96 139.01,240.95 139.35,240.93 139.69,240.91 140.03,240.90 140.38,240.88 140.72,240.86 141.06,240.85 141.41,240.83 141.75,240.81 142.09,240.80 142.43,240.78 142.78,240.76 143.12,240.75 143.46,240.73 143.80,240.71 144.15,240.70 144.49,240.68 144.83,240.66 145.18,240.65 145.52,240.63 145.86,240.62 146.20,240.60 146.55,240.59 146.89,240.58 147.23,240.56 147.57,240.55 147.92,240.54 148.26,240.53 148.60,240.51 148.94,240.50 149.29,240.49 149.63,240.48 149.97,240.47 150.32,240.45 150.66,240.44 151.00,240.43 151.34,240.42 151.69,240.41 152.03,240.40 152.37,240.39 152.71,240.37 153.06,240.36 153.40,240.35 153.74,240.34 154.08,240.33 154.43,240.32 154.77,240.30 155.11,240.29 155.46,240.28 155.80,240.27 156.14,240.25 156.48,240.24 156.83,240.23 157.17,240.21 157.51,240.20 157.85,240.18 158.20,240.17 158.54,240.15 158.88,240.14 159.23,240.12 159.57,240.11 159.91,240.09 160.25,240.08 160.60,240.06 160.94,240.05 161.28,240.03 161.62,240.02 161.97,240.00 162.31,239.98 162.65,239.97 162.99,239.95 163.34,239.93 163.68,239.92 164.02,239.90 164.37,239.88 164.71,239.86 165.05,239.84 165.39,239.82 165.74,239.80 166.08,239.78 166.42,239.76 166.76,239.74 167.11,239.72 167.45,239.69 167.79,239.67 168.14,239.65 168.48,239.62 168.82,239.60 169.16,239.57 169.51,239.54 169.85,239.51 170.19,239.49 170.53,239.46 170.88,239.42 171.22,239.39 171.56,239.36 171.90,239.32 172.25,239.29 172.59,239.25 172.93,239.21 173.28,239.17 173.62,239.13 173.96,239.09 174.30,239.05 174.65,239.00 174.99,238.96 175.33,238.91 175.67,238.86 176.02,238.81 176.36,238.76 176.70,238.71 177.04,238.65 177.39,238.60 177.73,238.54 178.07,238.48 178.42,238.42 178.76,238.36 179.10,238.30 179.44,238.23 179.79,238.17 180.13,238.10 180.47,238.03 180.81,237.95 181.16,237.87 181.50,237.78 181.84,237.69 182.19,237.59 182.53,237.48 182.87,237.37 183.21,237.26 183.56,237.13 183.90,237.01 184.24,236.87 184.58,236.74 184.93,236.59 185.27,236.45 185.61,236.29 185.95,236.14 186.30,235.97 186.64,235.79 186.98,235.60 187.33,235.39 187.67,235.18 188.01,234.95 188.35,234.71 188.70,234.46 189.04,234.20 189.38,233.94 189.72,233.66 190.07,233.39 190.41,233.10 190.75,232.81 191.09,232.51 191.44,232.21 191.78,231.91 192.12,231.60 192.47,231.27 192.81,230.94 193.15,230.60 193.49,230.24 193.84,229.88 194.18,229.50 194.52,229.11 194.86,228.71 195.21,228.31 195.55,227.89 195.89,227.46 196.24,227.02 196.58,226.57 196.92,226.10 197.26,225.63 197.61,225.17 197.95,224.72 198.29,224.28 198.63,223.84 198.98,223.39 199.32,222.93 199.66,222.44 200.00,221.93 200.35,221.38 200.69,220.79 201.03,220.14 201.38,219.44 201.72,218.66 202.06,217.82 202.40,216.89 202.75,215.87 203.09,214.62 203.43,212.81 203.77,210.48 204.12,207.73 204.46,204.63 204.80,201.29 205.15,197.78 205.49,194.18 205.83,190.10 206.17,185.45 206.52,180.35 206.86,174.90 207.20,169.22 207.54,163.42 207.89,157.33 208.23,150.74 208.57,143.45 208.91,135.14 209.26,125.41 209.60,114.65"/>
<line x1="45.35" x2="45.35" y1="210.76" y2="223.36" stroke="#0000ff" stroke-width="0.7"/>
<circle cx="45.35" cy="217.06" r="1.5" fill="#0000ff"/>
<line x1="56.60" x2="56.60" y1="230.87" y2="233.27" stroke="#0000ff" stroke-width="0.7"/>
<circle cx="56.60" cy="232.07" r="1.5" fill="#0000ff"/>
<circle cx="67.85" cy="238.05" r="1.5" fill="#0000ff"/>
<circle cx="79.10" cy="239.57" r="1.5" fill="#0000ff"/>
<circle cx="90.35" cy="240.18" r="1.5" fill="#0000ff"/>
<circle cx="101.60" cy="240.59" r="1.5" fill="#0000ff"/>
<circle cx="112.85" cy="241.10" r="1.5" fill="#0000ff"/>
<circle cx="124.10" cy="241.40" r="1.5" fill="#0000ff"/>
<circle cx="135.35" cy="241.10" r="1.5" fill="#0000ff"/>
<circle cx="146.60" cy="240.59" r="1.5" fill="#0000ff"/>
<circle cx="157.85" cy="240.18" r="1.5" fill="#0000ff"/>
<circle cx="169.10" cy="239.57" r="1.5" fill="#0000ff"/>
<circle cx="180.35" cy="238.05" r="1.5" fill="#0000ff"/>
<line x1="191.60" x2="191.60" y1="230.87" y2="233.27" stroke="#0000ff" stroke-width="0.7"/>
<circle cx="191.60" cy="232.07" r="1.5" fill="#0000ff"/>
<line x1="202.85" x2="202.85" y1="210.76" y2="223.36" stroke="#0000ff" stroke-width="0.7"/>
<circle cx="202.85" cy="217.06" r="1.5" fill="#0000ff"/>
</g>
<g clip-path="url(#c3)">
<line x1="223.80" x2="402.60" y1="241.40" y2="241.40" stroke="#ff0000" stroke-width="1"/>
<polyline fill="none" stroke="#000" stroke-width="1.0" stroke-dasharray="2.4 1.2" points="234.35,114.65 234.67,119.52 234.98,124.36 235.30,129.04 235.61,133.45 235.93,137.48 236.24,141.02 236.56,144.31 236.88,147.51 237.19,150.63 237.51,153.66 237.82,156.61 238.14,159.48 238.45,162.26 238.77,164.96 239.08,167.57 239.40,170.10 239.72,172.55 240.03,174.91 240.35,177.19 240.66,179.38 240.98,181.48 241.29,183.50 241.61,185.44 241.93,187.29 242.24,189.05 242.56,190.73 242.87,192.32 243.19,193.85 243.50,195.30 243.82,196.68 244.13,197.98 244.45,199.20 244.77,200.33 245.08,201.37 245.40,202.32 245.71,203.16 246.03,203.97 246.34,204.76 246.66,205.54 246.98,206.29 247.29,207.03 247.61,207.75 247.92,208.45 248.24,209.14 248.55,209.80 248.87,210.46 249.18,211.09 249.50,211.72 249.82,212.32 250.13,212.91 250.45,213.49 250.76,214.05 251.08,214.60 251.39,215.14 251.71,215.66 252.03,216.17 252.34,216.67 252.66,217.16 252.97,217.63 253.29,218.09 253.60,218.55 253.92,218.99 254.23,219.42 254.55,219.84 254.87,220.25 255.18,220.65 255.50,221.05 255.81,221.43 256.13,221.81 256.44,222.18 256.76,222.54 257.08,222.89 257.39,223.24 257.71,223.59 258.02,223.92 258.34,224.26 258.65,224.58 258.97,224.90 259.28,225.22 259.60,225.53 259.92,225.83 260.23,226.13 260.55,226.43 260.86,226.72 261.18,227.00 261.49,227.28 261.81,227.55 262.13,227.82 262.44,228.08 262.76,228.34 263.07,228.60 263.39,228.84 263.70,229.09 264.02,229.32 264.33,229.56 264.65,229.79 264.97,230.01 265.28,230.23 265.60,230.44 265.91,230.65 266.23,230.85 266.54,231.05 266.86,231.25 267.18,231.44 267.49,231.62 267.81,231.81 268.12,231.98 268.44,232.16 268.75,232.33 269.07,232.50 269.39,232.66 269.70,232.83 270.02,232.99 270.33,233.15 270.65,233.31 270.96,233.47 271.28,233.62 271.59,233.77 271.91,233.92 272.23,234.07 272.54,234.21 272.86,234.35 273.17,234.49 273.49,234.63 273.80,234.76 274.12,234.89 274.44,235.02 274.75,235.14 275.07,235.27 275.38,235.39 275.70,235.50 276.01,235.62 276.33,235.73 276.64,235.84 276.96,235.94 277.28,236.04 277.59,236.14 277.91,236.24 278.22,236.33 278.54,236.42 278.85,236.51 279.17,236.59 279.49,236.67 279.80,236.75 280.12,236.82 280.43,236.89 280.75,236.97 281.06,237.04 281.38,237.10 281.69,237.17 282.01,237.24 282.33,237.30 282.64,237.36 282.96,237.42 283.27,237.48 283.59,237.54 283.90,237.60 284.22,237.65 284.54,237.71 284.85,237.76 285.17,237.82 285.48,237.87 285.80,237.92 286.11,237.97 286.43,238.02 286.74,238.07 287.06,238.12 287.38,238.17 287.69,238.22 288.01,238.27 288.32,238.32 288.64,238.36 288.95,238.41 289.27,238.46 289.59,238.51 289.90,238.55 290.22,238.60 290.53,238.65 290.85,238.70 291.16,238.75 291.48,238.80 291.79,238.84 292.11,238.89 292.43,238.94 292.74,238.98 293.06,239.03 293.37,239.08 293.69,239.12 294.00,239.17 294.32,239.21 294.64,239.25 294.95,239.30 295.27,239.34 295.58,239.38 295.90,239.43 296.21,239.47 296.53,239.51 296.84,239.55 297.16,239.60 297.48,239.64 297.79,239.68 298.11,239.72 298.42,239.76 298.74,239.80 299.05,239.84 299.37,239.88 299.69,239.92 300.00,239.96 300.32,240.00 300.63,240.04 300.95,240.07 301.26,240.11 301.58,240.15 301.90,240.19 302.21,240.23 302.53,240.27 302.84,240.31 303.16,240.35 303.47,240.39 303.79,240.44 304.10,240.48 304.42,240.53 304.74,240.57 305.05,240.62 305.37,240.67 305.68,240.71 306.00,240.76 306.31,240.80 306.63,240.85 306.95,240.89 307.26,240.93 307.58,240.97 307.89,241.01 308.21,241.05 308.52,241.09 308.84,241.13 309.15,241.16 309.47,241.20 309.79,241.23 310.10,241.26 310.42,241.28 310.73,241.31 311.05,241.33 311.36,241.35 311.68,241.37 312.00,241.38 312.31,241.39 312.63,241.40 312.94,241.40 313.26,241.40 313.57,241.40 313.89,241.39 314.20,241.38 314.52,241.37 314.84,241.35 315.15,241.33 315.47,241.31 315.78,241.28 316.10,241.26 316.41,241.23 316.73,241.20 317.05,241.16 317.36,241.13 317.68,241.09 317.99,241.05 318.31,241.01 318.62,240.97 318.94,240.93 319.25,240.89 319.57,240.85 319.89,240.80 320.20,240.76 320.52,240.71 320.83,240.67 321.15,240.62 321.46,240.57 321.78,240.53 322.10,240.48 322.41,240.44 322.73,240.39 323.04,240.35 323.36,240.31 323.67,240.27 323.99,240.23 324.30,240.19 324.62,240.15 324.94,240.11 325.25,240.07 325.57,240.04 325.88,240.00 326.20,239.96 326.51,239.92 326.83,239.88 327.15,239.84 327.46,239.80 327.78,239.76 328.09,239.72 328.41,239.68 328.72,239.64 329.04,239.60 329.36,239.55 329.67,239.51 329.99,239.47 330.30,239.43 330.62,239.38 330.93,239.34 331.25,239.30 331.56,239.25 331.88,239.21 332.20,239.17 332.51,239.12 332.83,239.08 333.14,239.03 333.46,238.98 333.77,238.94 334.09,238.89 334.41,238.84 334.72,238.80 335.04,238.75 335.35,238.70 335.67,238.65 335.98,238.60 336.30,238.55 336.61,238.51 336.93,238.46 337.25,238.41 337.56,238.36 337.88,238.32 338.19,238.27 338.51,238.22 338.82,238.17 339.14,238.12 339.46,238.07 339.77,238.02 340.09,237.97 340.40,237.92 340.72,237.87 341.03,237.82 341.35,237.76 341.66,237.71 341.98,237.65 342.30,237.60 342.61,237.54 342.93,237.48 343.24,237.42 343.56,237.36 343.87,237.30 344.19,237.24 344.51,237.17 344.82,237.10 345.14,237.04 345.45,236.97 345.77,236.89 346.08,236.82 346.40,236.75 346.71,236.67 347.03,236.59 347.35,236.51 347.66,236.42 347.98,236.33 348.29,236.24 348.61,236.14 348.92,236.04 349.24,235.94 349.56,235.84 349.87,235.73 350.19,235.62 350.50,235.50 350.82,235.39 351.13,235.27 351.45,235.14 351.76,235.02 352.08,234.89 352.40,234.76 352.71,234.63 353.03,234.49 353.34,234.35 353.66,234.21 353.97,234.07 354.29,233.92 354.61,233.77 354.92,233.62 355.24,233.47 355.55,233.31 355.87,233.15 356.18,232.99 356.50,232.83 356.81,232.66 357.13,232.50 357.45,232.33 357.76,232.16 358.08,231.98 358.39,231.81 358.71,231.62 359.02,231.44 359.34,231.25 359.66,231.05 359.97,230.85 360.29,230.65 360.60,230.44 360.92,230.23 361.23,230.01 361.55,229.79 361.87,229.56 362.18,229.32 362.50,229.09 362.81,228.84 363.13,228.60 363.44,228.34 363.76,228.08 364.07,227.82 364.39,227.55 364.71,227.28 365.02,227.00 365.34,226.72 365.65,226.43 365.97,226.13 366.28,225.83 366.60,225.53 366.92,225.22 367.23,224.90 367.55,224.58 367.86,224.26 368.18,223.92 368.49,223.59 368.81,223.24 369.12,222.89 369.44,222.54 369.76,222.18 370.07,221.81 370.39,221.43 370.70,221.05 371.02,220.65 371.33,220.25 371.65,219.84 371.97,219.42 372.28,218.99 372.60,218.55 372.91,218.09 373.23,217.63 373.54,217.16 373.86,216.67 374.17,216.17 374.49,215.66 374.81,215.14 375.12,214.60 375.44,214.05 375.75,213.49 376.07,212.91 376.38,212.32 376.70,211.72 377.02,211.09 377.33,210.46 377.65,209.80 377.96,209.14 378.28,208.45 378.59,207.75 378.91,207.03 379.22,206.29 379.54,205.54 379.86,204.76 380.17,203.97 380.49,203.16 380.80,202.32 381.12,201.37 381.43,200.33 381.75,199.20 382.07,197.98 382.38,196.68 382.70,195.30 383.01,193.85 383.33,192.32 383.64,190.73 383.96,189.05 384.27,187.29 384.59,185.44 384.91,183.50 385.22,181.48 385.54,179.38 385.85,177.19 386.17,174.91 386.48,172.55 386.80,170.10 387.12,167.57 387.43,164.96 387.75,162.26 388.06,159.48 388.38,156.61 388.69,153.66 389.01,150.63 389.32,147.51 389.64,144.31 389.96,141.02 390.27,137.48 390.59,133.45 390.90,129.04 391.22,124.36 391.53,119.52 391.85,114.65"/>
<line x1="245.60" x2="245.60" y1="197.21" y2="215.21" stroke="#0000ff" stroke-width="0.7"/>
<circle cx="245.60" cy="206.21" r="1.5" fill="#0000ff"/>
<line x1="256.85" x2="256.85" y1="218.64" y2="226.64" stroke="#0000ff" stroke-width="0.7"/>
<circle cx="256.85" cy="222.64" r="1.5" fill="#0000ff"/>
<line x1="268.10" x2="268.10" y1="229.47" y2="234.47" stroke="#0000ff" stroke-width="0.7"/>
<circle cx="268.10" cy="231.97" r="1.5" fill="#0000ff"/>
<line x1="279.35" x2="279.35" y1="235.13" y2="238.13" stroke="#0000ff" stroke-width="0.7"/>
<circle cx="279.35" cy="236.63" r="1.5" fill="#0000ff"/>
<line x1="290.60" x2="290.60" y1="237.86" y2="239.46" stroke="#0000ff" stroke-width="0.7"/>
<circle cx="290.60" cy="238.66" r="1.5" fill="#0000ff"/>
<circle cx="301.85" cy="240.18" r="1.5" fill="#0000ff"/>
<circle cx="313.10" cy="241.40" r="1.5" fill="#0000ff"/>
<circle cx="324.35" cy="240.18" r="1.5" fill="#0000ff"/>
<line x1="335.60" x2="335.60" y1="237.86" y2="239.46" stroke="#0000ff" stroke-width="0.7"/>
<circle cx="335.60" cy="238.66" r="1.5" fill="#0000ff"/>
<line x1="346.85" x2="346.85" y1="235.13" y2="238.13" stroke="#0000ff" stroke-width="0.7"/>
<circle cx="346.85" cy="236.63" r="1.5" fill="#0000ff"/>
<line x1="358.10" x2="358.10" y1="229.47" y2="234.47" stroke="#0000ff" stroke-width="0.7"/>
<circle cx="358.10" cy="231.97" r="1.5" fill="#0000ff"/>
<line x1="369.35" x2="369.35" y1="218.64" y2="226.64" stroke="#0000ff" stroke-width="0.7"/>
<circle cx="369.35" cy="222.64" r="1.5" fill="#0000ff"/>
<line x1="380.60" x2="380.60" y1="197.21" y2="215.21" stroke="#0000ff" stroke-width="0.7"/>
<circle cx="380.60" cy="206.21" r="1.5" fill="#0000ff"/>
</g>
<rect x="34.40" y="22.00" width="178.90" height="110.45" fill="none" stroke="#1c1c1c" stroke-width="1.0"/>
<line x1="79.10" x2="79.10" y1="132.45" y2="129.75" stroke="#000" stroke-width="1"/>
<line x1="124.10" x2="124.10" y1="132.45" y2="129.75" stroke="#000" stroke-width="1"/>
<line x1="169.10" x2="169.10" y1="132.45" y2="129.75" stroke="#000" stroke-width="1"/>
<line x1="34.40" x2="37.10" y1="123.20" y2="123.20" stroke="#000" stroke-width="1"/>
<line x1="34.40" x2="37.10" y1="77.00" y2="77.00" stroke="#000" stroke-width="1"/>
<line x1="34.40" x2="37.10" y1="30.80" y2="30.80" stroke="#000" stroke-width="1"/>
<rect x="223.80" y="22.00" width="178.80" height="110.45" fill="none" stroke="#1c1c1c" stroke-width="1.0"/>
<line x1="268.10" x2="268.10" y1="132.45" y2="129.75" stroke="#000" stroke-width="1"/>
<line x1="313.10" x2="313.10" y1="132.45" y2="129.75" stroke="#000" stroke-width="1"/>
<line x1="358.10" x2="358.10" y1="132.45" y2="129.75" stroke="#000" stroke-width="1"/>
<line x1="223.80" x2="226.50" y1="123.20" y2="123.20" stroke="#000" stroke-width="1"/>
<line x1="223.80" x2="226.50" y1="77.00" y2="77.00" stroke="#000" stroke-width="1"/>
<line x1="223.80" x2="226.50" y1="30.80" y2="30.80" stroke="#000" stroke-width="1"/>
<rect x="34.40" y="140.50" width="178.90" height="110.80" fill="none" stroke="#1c1c1c" stroke-width="1.0"/>
<line x1="79.10" x2="79.10" y1="251.30" y2="248.60" stroke="#000" stroke-width="1"/>
<line x1="124.10" x2="124.10" y1="251.30" y2="248.60" stroke="#000" stroke-width="1"/>
<line x1="169.10" x2="169.10" y1="251.30" y2="248.60" stroke="#000" stroke-width="1"/>
<line x1="34.40" x2="37.10" y1="241.40" y2="241.40" stroke="#000" stroke-width="1"/>
<line x1="34.40" x2="37.10" y1="221.12" y2="221.12" stroke="#000" stroke-width="1"/>
<line x1="34.40" x2="37.10" y1="200.84" y2="200.84" stroke="#000" stroke-width="1"/>
<line x1="34.40" x2="37.10" y1="180.56" y2="180.56" stroke="#000" stroke-width="1"/>
<line x1="34.40" x2="37.10" y1="160.28" y2="160.28" stroke="#000" stroke-width="1"/>
<rect x="223.80" y="140.50" width="178.80" height="110.80" fill="none" stroke="#1c1c1c" stroke-width="1.0"/>
<line x1="268.10" x2="268.10" y1="251.30" y2="248.60" stroke="#000" stroke-width="1"/>
<line x1="313.10" x2="313.10" y1="251.30" y2="248.60" stroke="#000" stroke-width="1"/>
<line x1="358.10" x2="358.10" y1="251.30" y2="248.60" stroke="#000" stroke-width="1"/>
<line x1="223.80" x2="226.50" y1="241.40" y2="241.40" stroke="#000" stroke-width="1"/>
<line x1="223.80" x2="226.50" y1="221.12" y2="221.12" stroke="#000" stroke-width="1"/>
<line x1="223.80" x2="226.50" y1="200.84" y2="200.84" stroke="#000" stroke-width="1"/>
<line x1="223.80" x2="226.50" y1="180.56" y2="180.56" stroke="#000" stroke-width="1"/>
<line x1="223.80" x2="226.50" y1="160.28" y2="160.28" stroke="#000" stroke-width="1"/>
<text transform="translate(25.62,129.00) scale(1.0650,1)" font-family="Liberation Serif, serif" font-size="15.76" >1</text>
<text transform="translate(25.53,82.80) scale(1.0650,1)" font-family="Liberation Serif, serif" font-size="15.76" >2</text>
<text transform="translate(25.26,36.60) scale(1.0650,1)" font-family="Liberation Serif, serif" font-size="15.76" >3</text>
<text transform="translate(25.05,247.20) scale(1.0650,1)" font-family="Liberation Serif, serif" font-size="15.76" >0</text>
<text transform="translate(25.33,226.92) scale(1.0650,1)" font-family="Liberation Serif, serif" font-size="15.76" >2</text>
<text transform="translate(24.67,206.64) scale(1.0650,1)" font-family="Liberation Serif, serif" font-size="15.76" >4</text>
<text transform="translate(24.91,186.36) scale(1.0650,1)" font-family="Liberation Serif, serif" font-size="15.76" >6</text>
<text transform="translate(25.05,166.08) scale(1.0650,1)" font-family="Liberation Serif, serif" font-size="15.76" >8</text>
<text transform="translate(64.17,265.80) scale(1.0748,1)" font-family="Liberation Serif, serif" font-size="15.76" >-</text>
<text transform="translate(73.06,265.80) scale(1.0387,1)" font-family="Liberation Serif, serif" font-size="15.76" >1.0</text>
<text transform="translate(113.06,265.80) scale(1.0649,1)" font-family="Liberation Serif, serif" font-size="15.76" >0.0</text>
<text transform="translate(158.20,265.80) scale(1.0839,1)" font-family="Liberation Serif, serif" font-size="15.76" >1.0</text>
<text transform="translate(253.17,265.80) scale(1.0748,1)" font-family="Liberation Serif, serif" font-size="15.76" >-</text>
<text transform="translate(262.06,265.80) scale(1.0387,1)" font-family="Liberation Serif, serif" font-size="15.76" >1.0</text>
<text transform="translate(302.06,265.80) scale(1.0649,1)" font-family="Liberation Serif, serif" font-size="15.76" >0.0</text>
<text transform="translate(347.20,265.80) scale(1.0839,1)" font-family="Liberation Serif, serif" font-size="15.76" >1.0</text>
<text transform="translate(103.81,16.40) scale(1.0417,1)" font-family="Liberation Serif, serif" font-size="17.60" >g=J/5</text>
<text transform="translate(286.02,16.40) scale(1.0282,1)" font-family="Liberation Serif, serif" font-size="17.60" >g=3J/10</text>
<text transform="translate(51.88,41.60) scale(1.0870,1)" font-family="Liberation Serif, serif" font-size="17.10" >(a)</text>
<text transform="translate(240.38,41.60) scale(1.0870,1)" font-family="Liberation Serif, serif" font-size="17.10" >(b)</text>
<text transform="translate(52.28,160.15) scale(1.0870,1)" font-family="Liberation Serif, serif" font-size="17.10" >(c)</text>
<text transform="translate(240.38,160.15) scale(1.0870,1)" font-family="Liberation Serif, serif" font-size="17.10" >(d)</text>
<text transform="translate(100.47,284.60) scale(0.6975,1)" font-family="Liberation Sans, sans-serif" font-size="14.60" >(</text>
<text transform="translate(103.92,285.50) scale(1.0334,1)" font-family="Liberation Sans, sans-serif" font-size="15.60" >Δ</text>
<text transform="translate(114.99,285.50) scale(1.0240,1)" font-family="Liberation Sans, sans-serif" font-size="15.60" >-</text>
<text transform="translate(124.21,285.50) scale(1.3040,1)" font-family="Liberation Sans, sans-serif" font-size="15.60" >ϵ</text>
<text transform="translate(133.74,284.60) scale(0.6975,1)" font-family="Liberation Sans, sans-serif" font-size="14.60" >)</text>
<text transform="translate(137.40,286.60) scale(1.0225,1)" font-family="Liberation Sans, sans-serif" font-size="17.60" >/</text>
<text transform="translate(142.63,286.80) scale(0.6305,1)" font-family="Liberation Sans, sans-serif" font-size="17.40" >J</text>
<text transform="translate(289.47,284.60) scale(0.6975,1)" font-family="Liberation Sans, sans-serif" font-size="14.60" >(</text>
<text transform="translate(292.92,285.50) scale(1.0334,1)" font-family="Liberation Sans, sans-serif" font-size="15.60" >Δ</text>
<text transform="translate(303.99,285.50) scale(1.0240,1)" font-family="Liberation Sans, sans-serif" font-size="15.60" >-</text>
<text transform="translate(313.21,285.50) scale(1.3040,1)" font-family="Liberation Sans, sans-serif" font-size="15.60" >ϵ</text>
<text transform="translate(322.74,284.60) scale(0.6975,1)" font-family="Liberation Sans, sans-serif" font-size="14.60" >)</text>
<text transform="translate(326.40,286.60) scale(1.0225,1)" font-family="Liberation Sans, sans-serif" font-size="17.60" >/</text>
<text transform="translate(331.63,286.80) scale(0.6305,1)" font-family="Liberation Sans, sans-serif" font-size="17.40" >J</text>
<g transform="translate(20.0,0) rotate(-90)">
<text transform="translate(-119.62,0.20) scale(1.4281,1)" font-family="Liberation Sans, sans-serif" font-size="15.60" >τ</text>
<text transform="translate(-113.52,4.30) scale(1.2124,1)" font-family="Liberation Sans, sans-serif" font-size="8.80" >0</text>
<text transform="translate(-106.90,1.30) scale(0.9798,1)" font-family="Liberation Sans, sans-serif" font-size="18.00" >/</text>
<text transform="translate(-101.99,0.20) scale(1.3249,1)" font-family="Liberation Sans, sans-serif" font-size="15.60" >τ</text>
<text transform="translate(-94.31,4.30) scale(1.1886,1)" font-family="Liberation Sans, sans-serif" font-size="8.80" >0</text>
<text transform="translate(-94.19,-8.00) scale(0.9741,1)" font-family="Liberation Serif, serif" font-size="10.40" >FGR</text>
<text transform="translate(-73.66,-0.90) scale(1.0448,1)" font-family="Liberation Sans, sans-serif" font-size="14.80" >(</text>
<text transform="translate(-68.61,0.30) scale(1.1037,1)" font-family="Liberation Sans, sans-serif" font-size="15.50" >Δ</text>
<text transform="translate(-56.51,0.00) scale(1.2656,1)" font-family="Liberation Sans, sans-serif" font-size="14.80" >=</text>
<text transform="translate(-47.42,0.00) scale(1.3058,1)" font-family="Liberation Sans, sans-serif" font-size="16.00" >ϵ</text>
<text transform="translate(-38.58,-0.90) scale(0.9429,1)" font-family="Liberation Sans, sans-serif" font-size="14.80" >)</text>
</g>
<g transform="translate(19.6,0) rotate(-90)">
<text transform="translate(-210.51,-0.20) scale(0.9133,1)" font-family="Liberation Sans, sans-serif" font-size="16.00" >δ</text>
<text transform="translate(-202.26,0.20) scale(1.1219,1)" font-family="Liberation Sans, sans-serif" font-size="14.20" >φ</text>
<text transform="translate(-191.70,1.30) scale(1.0198,1)" font-family="Liberation Sans, sans-serif" font-size="18.00" >/</text>
<text transform="translate(-186.61,1.60) scale(0.7847,1)" font-family="Liberation Sans, sans-serif" font-size="17.40" >J</text>
</g>
</svg>
</body></html>
